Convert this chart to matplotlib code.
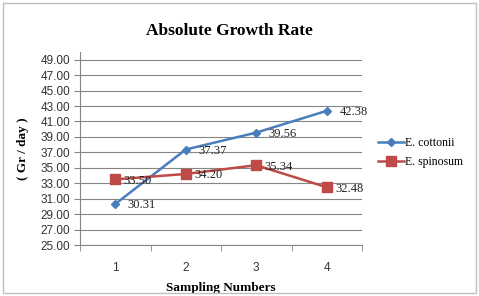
import matplotlib.pyplot as plt
import numpy as np

# Data
samples = [1, 2, 3, 4]
cottonii = [30.31, 37.37, 39.56, 42.38]
spinosum = [33.50, 34.20, 35.34, 32.48]
yticks = np.arange(25, 50, 2)

blue = '#4A7EBB'
red = '#BE4B48'
serif = ['Liberation Serif', 'DejaVu Serif']
sans = ['Liberation Sans', 'DejaVu Sans']

fig = plt.figure(figsize=(4.79, 2.96), dpi=100)
ax = fig.add_axes([80 / 479, 1 - 245 / 296, 282 / 479, 193 / 296])

# outer frame of chart area
fig.patches.append(plt.Rectangle((3 / 479, 3 / 296), 473 / 479, 290 / 296,
                                 transform=fig.transFigure, fill=False,
                                 edgecolor='#BFBFBF', linewidth=1.0))

ax.plot(samples, cottonii, color=blue, marker='D', markersize=4.5,
        linewidth=1.8, label='E. cottonii')
ax.plot(samples, spinosum, color=red, marker='s', markersize=6.5,
        linewidth=1.8, label='E. spinosum')

for x, y in zip(samples, cottonii):
    ax.annotate(f'{y:.2f}', (x, y), xytext=(9, -1), textcoords='offset points',
                ha='left', va='center', fontsize=9, family=serif, color='#222222')
for x, y in zip(samples, spinosum):
    ax.annotate(f'{y:.2f}', (x, y), xytext=(6, -1), textcoords='offset points',
                ha='left', va='center', fontsize=9, family=serif, color='#222222')

ax.set_xlim(0.5, 4.5)
ax.set_ylim(25, 50)
ax.set_yticks(yticks)
ax.set_yticklabels([f'{t:.2f}' for t in yticks], family=sans, fontsize=8.5,
                   color='#333333')
ax.set_xticks(samples)
ax.set_xticklabels([str(s) for s in samples], family=sans, fontsize=8.5,
                   color='#333333')
ax.set_xticks([0.5, 1.5, 2.5, 3.5, 4.5], minor=True)
ax.tick_params(axis='x', which='major', length=0, pad=12)
ax.tick_params(axis='x', which='minor', length=4, color='#868686')
ax.tick_params(axis='y', length=4, color='#868686', pad=3)

ax.grid(axis='y', color='#868686', linewidth=0.8)
ax.set_axisbelow(True)
for side in ['top', 'right']:
    ax.spines[side].set_visible(False)
for side in ['left', 'bottom']:
    ax.spines[side].set_color('#868686')

ax.set_xlabel('Sampling Numbers', family=serif, fontweight='bold', fontsize=9.5,
              labelpad=6)
ax.set_ylabel('( Gr / day )', family=serif, fontweight='bold', fontsize=9.5,
              labelpad=8)
fig.text(0.48, 0.895, 'Absolute Growth Rate', ha='center', va='center',
         family=serif, fontweight='bold', fontsize=12.5)

ax.legend(loc='center left', bbox_to_anchor=(1.02, 0.48), frameon=False,
          prop={'family': serif, 'size': 8.5}, handlelength=2.2,
          handletextpad=0.1, labelspacing=0.6)

fig.savefig('out.png', dpi=100)
